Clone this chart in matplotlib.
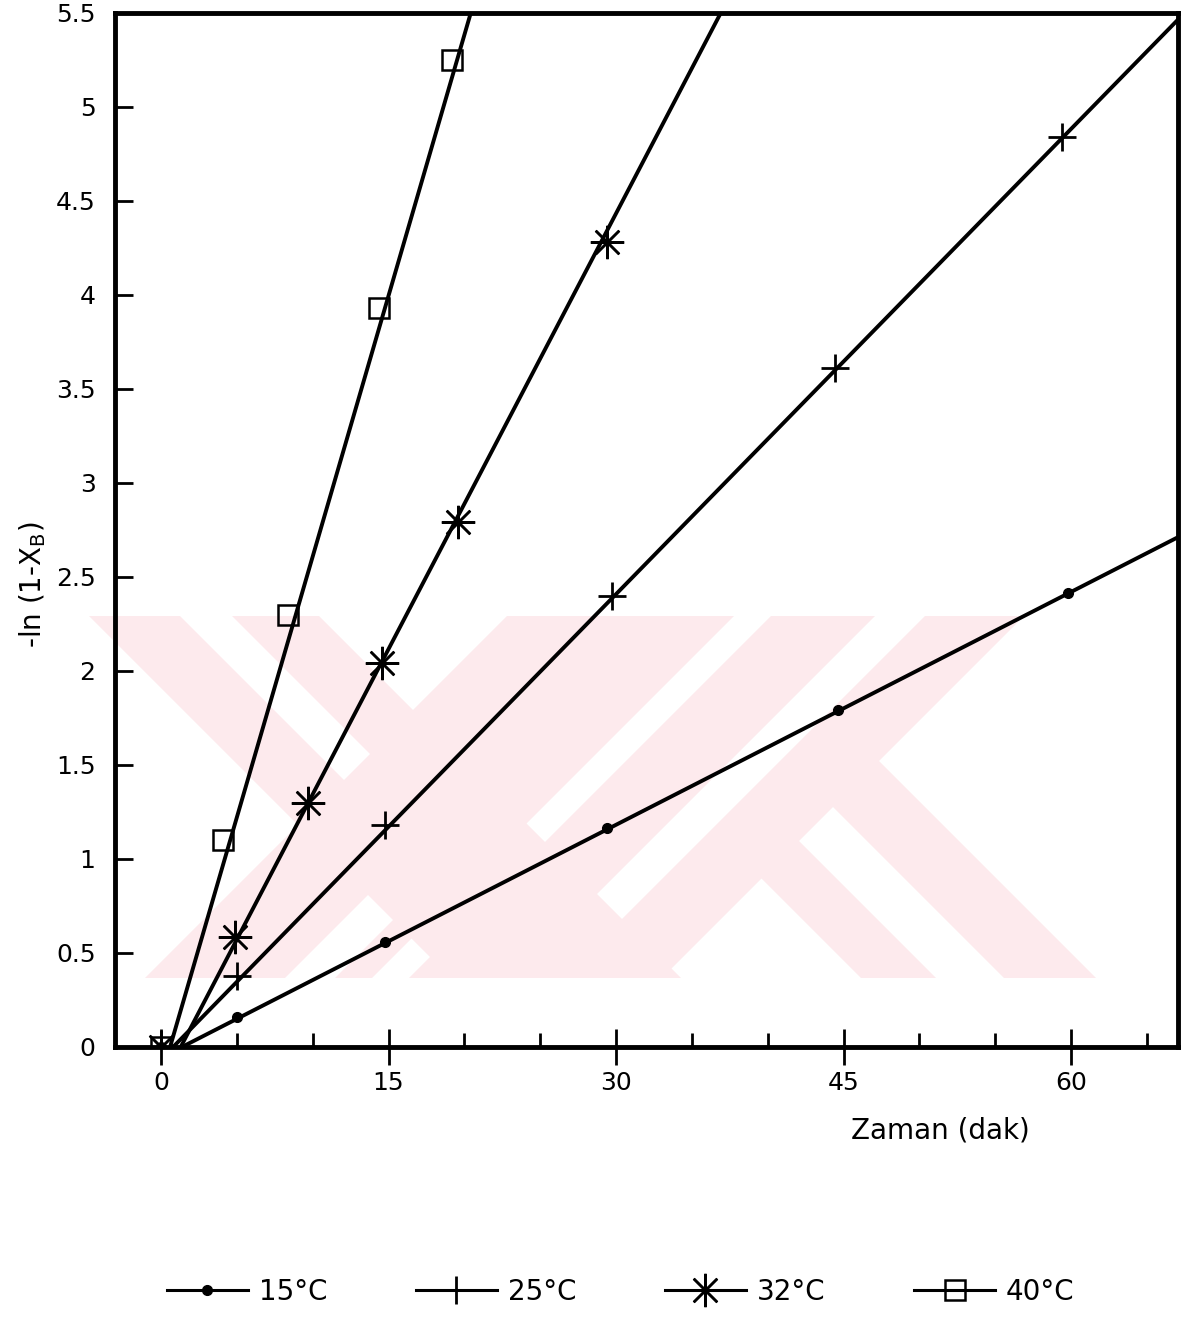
import numpy as np
import matplotlib
matplotlib.use("Agg")
import matplotlib.pyplot as plt
from matplotlib.patches import Polygon
from matplotlib.lines import Line2D
from matplotlib.transforms import Affine2D
from matplotlib.ticker import FixedLocator, FuncFormatter

plt.rcParams["font.family"] = ["DejaVu Sans"]

# Measured conversion -ln(1-X_B) versus time (min) at four temperatures
labels = ["15°C", "25°C", "32°C", "40°C"]

t_15 = [0, 5.0, 14.8, 29.4, 44.6, 59.8]
y_15 = [0, 0.16, 0.56, 1.165, 1.79, 2.415]

t_25 = [0, 5.0, 14.8, 29.7, 44.4, 59.4]
y_25 = [0, 0.38, 1.18, 2.40, 3.61, 4.84]

t_32 = [0, 4.9, 9.7, 14.6, 19.6, 29.4]
y_32 = [0, 0.585, 1.30, 2.04, 2.79, 4.28]

t_40 = [0, 4.1, 8.4, 14.4, 19.2]
y_40 = [0, 1.10, 2.30, 3.93, 5.25]

# Straight-line fits: slope (1/min) and time axis intercept (min)
fit_slope = [0.0413, 0.0825, 0.1545, 0.2775]
fit_t0 = [1.38, 0.8, 1.3, 0.6]

x_major = [0, 15, 30, 45, 60]
x_minor = [5, 10, 20, 25, 35, 40, 50, 55, 65]
y_ticks = [0, 0.5, 1, 1.5, 2, 2.5, 3, 3.5, 4, 4.5, 5, 5.5]

W, H = 1194, 1318
fig = plt.figure(figsize=(W / 100, H / 100), dpi=100)
ax = fig.add_axes([115 / W, 1 - 1047 / H, (1178 - 115) / W, (1047 - 13) / H])
ax.patch.set_visible(False)

# Background archive stamp (pixel coordinates, origin top-left)
px = Affine2D().scale(1 / W, -1 / H).translate(0, 1) + fig.transFigure
pink = "#fdeaed"
stamp_bands = [
    [(89, 616), (319, 616), (681, 978), (451, 978)],
    [(145, 978), (372, 978), (734, 616), (507, 616)],
    [(409, 978), (513, 978), (875, 616), (771, 616)],
    [(563, 978), (662, 978), (1024, 616), (925, 616)],
    [(861, 978), (936, 978), (776, 818), (738, 855)],
    [(1004, 978), (1096, 978), (877, 759), (814, 788)],
]
stamp_gaps = [
    [(180, 616), (232, 616), (370, 754), (344, 780)],
    [(285, 978), (335, 978), (393, 920), (368, 895)],
]
for pts in stamp_bands:
    fig.add_artist(Polygon(pts, closed=True, transform=px, facecolor=pink,
                           edgecolor="none", zorder=-2))
for pts in stamp_gaps:
    fig.add_artist(Polygon(pts, closed=True, transform=px, facecolor="white",
                           edgecolor="none", zorder=-1))

series_t = [t_15, t_25, t_32, t_40]
series_y = [y_15, y_25, y_32, y_40]
markers = [
    dict(marker="o", ms=7, mfc="black", mec="black", mew=1),
    dict(marker="+", ms=20, mfc="none", mec="black", mew=2),
    dict(marker=(8, 2, 0), ms=24, mfc="none", mec="black", mew=1.8),
    dict(marker="s", ms=14, mfc="none", mec="black", mew=1.8),
]

xmin, xmax = -3.03, 67.04
handles = []
for t, y, k, t0, m, lab in zip(series_t, series_y, fit_slope, fit_t0, markers, labels):
    tl = np.array([t0, xmax + 5])
    ax.plot(tl, k * (tl - t0), color="black", lw=2.8, zorder=3, solid_capstyle="butt")
    ax.plot(t, y, linestyle="none", color="black", zorder=4, **m)
    handles.append(Line2D([], [], color="black", lw=2.2, label=lab, **m))

ax.set_xlim(xmin, xmax)
ax.set_ylim(0, 5.5)

for s in ax.spines.values():
    s.set_linewidth(3.5)
    s.set_color("black")

ax.xaxis.set_major_locator(FixedLocator(x_major))
ax.xaxis.set_minor_locator(FixedLocator(x_minor))
ax.yaxis.set_major_locator(FixedLocator(y_ticks))
ax.yaxis.set_major_formatter(FuncFormatter(lambda v, p: f"{v:g}"))
ax.tick_params(axis="x", which="major", direction="inout", length=26, width=2,
               labelsize=18, pad=4, top=False)
ax.tick_params(axis="x", which="minor", direction="in", length=10, width=2, top=False)
ax.tick_params(axis="y", which="major", direction="in", length=13, width=2,
               labelsize=18, pad=14, right=False)

fig.text(940 / W, 1 - 1130 / H, "Zaman (dak)", ha="center", va="center", fontsize=20)
fig.text(33 / W, 1 - 585 / H, r"-ln (1-X$_\mathregular{B}$)", ha="center", va="center",
         rotation=90, fontsize=20)

fig.legend(handles=handles, loc="center", bbox_to_anchor=(0.52, 1 - 1292 / H),
           ncol=4, frameon=False, fontsize=20, handlelength=2.9, handletextpad=0.4,
           columnspacing=3.2, numpoints=1)

fig.savefig("out.png", dpi=100, facecolor="white")
